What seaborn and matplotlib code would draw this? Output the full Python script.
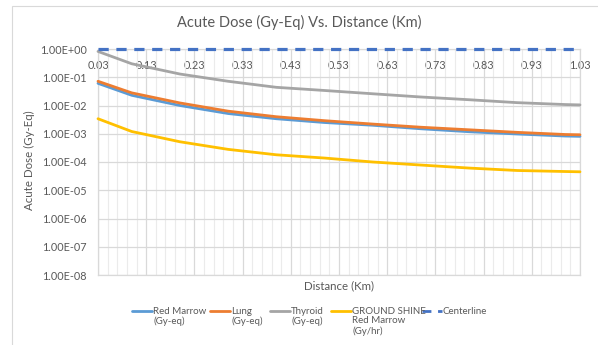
import numpy as np
import pandas as pd
import matplotlib
matplotlib.use("Agg")
import matplotlib.pyplot as plt
from matplotlib.patches import Rectangle
from matplotlib.lines import Line2D
import matplotlib.ticker as mticker
import seaborn as sns

# values
distance = [0.03, 0.1, 0.2, 0.3, 0.4, 0.5, 0.6, 0.7, 0.8, 0.9, 1.0, 1.03]
red_marrow = [0.061, 0.023, 0.010, 0.0052, 0.0034, 0.0025, 0.0020, 0.0015, 0.00118, 0.00098, 0.00083, 0.00081]
lung = [0.072, 0.028, 0.0123, 0.0063, 0.0040, 0.0029, 0.0022, 0.0017, 0.00138, 0.00112, 0.00094, 0.00092]
thyroid = [0.82, 0.30, 0.13, 0.072, 0.044, 0.034, 0.026, 0.020, 0.016, 0.0126, 0.0108, 0.0105]
ground_shine = [0.0034, 0.0012, 0.00052, 0.00028, 0.00018, 0.000138, 0.0001, 0.000078, 0.000061, 0.00005, 0.000046, 0.000045]
centerline = [1.0] * len(distance)

series_names = ["Red Marrow\n(Gy-eq)", "Lung\n(Gy-eq)", "Thyroid\n(Gy-eq)",
                "GROUND SHINE\nRed Marrow\n(Gy/hr)", "Centerline"]
series_values = [red_marrow, lung, thyroid, ground_shine, centerline]
colors = ["#5B9BD5", "#ED7D31", "#A5A5A5", "#FFC000", "#4472C4"]

df = pd.concat([pd.DataFrame({"Distance": distance, "Dose": v, "Series": n})
                for n, v in zip(series_names, series_values)])

sns.set_style("white")
plt.rcParams["font.family"] = ["Lato", "DejaVu Sans"]
txt = "#595959"
W, H = 598, 345
dash = (0, (3.2, 2.4))

fig = plt.figure(figsize=(5.98, 3.45), dpi=100)
ax = fig.add_axes([98 / W, 1 - 275 / H, (580 - 98) / W, (275 - 49) / H])

sns.lineplot(data=df, x="Distance", y="Dose", hue="Series",
             palette=colors, hue_order=series_names, linewidth=2.0, ax=ax,
             sort=False, legend=False)
for ln in ax.lines:
    ln.set_clip_on(False)
    ln.set_zorder(3)
ax.lines[-1].set_linestyle(dash)
ax.lines[-1].set_linewidth(2.3)

ax.set_yscale("log")
ax.set_ylim(1e-8, 1)
ax.set_xlim(0.03, 1.03)
ax.yaxis.set_major_locator(mticker.LogLocator(base=10, numticks=20))
ax.yaxis.set_minor_locator(mticker.NullLocator())
ax.yaxis.set_major_formatter(mticker.FuncFormatter(lambda v, p: "{:.2E}".format(v)))
ax.set_xticks(np.arange(0.03, 1.04, 0.1))
ax.set_xticks(np.arange(0.03, 1.04, 0.02), minor=True)
ax.xaxis.set_major_formatter(mticker.FuncFormatter(lambda v, p: "{:.2f}".format(v)))
ax.xaxis.tick_top()
ax.tick_params(axis="x", which="both", length=0, pad=-16, labelsize=7.8, colors=txt)
ax.tick_params(axis="y", length=0, pad=8, labelsize=7.8, colors=txt)

ax.grid(which="major", color="#D9D9D9", linewidth=0.9)
ax.grid(which="minor", axis="x", color="#EBEBEB", linewidth=0.8)
for s in ax.spines.values():
    s.set_color("#D9D9D9")
    s.set_linewidth(0.9)
ax.set_axisbelow(True)

ax.set_xlabel("")
ax.set_ylabel("")
fig.text(339 / W, 1 - 286 / H, "Distance (Km)", ha="center", va="center", fontsize=8.3, color=txt)
fig.text(29 / W, 1 - 160 / H, "Acute Dose (Gy-Eq)", ha="center", va="center",
         rotation=90, fontsize=8.3, color=txt)
fig.text(299 / W, 1 - 22 / H, "Acute Dose (Gy-Eq) Vs. Distance (Km)", ha="center",
         va="center", fontsize=10.5, color=txt)

# legend below the plot: handle left edges in pixels
handle_x = [132, 210, 270, 331, 422]
for name, col, hx in zip(series_names, colors, handle_x):
    style = dash if name == "Centerline" else "-"
    fig.add_artist(Line2D([hx / W, (hx + 20) / W], [1 - 311 / H] * 2, color=col,
                          linewidth=2.0, linestyle=style, transform=fig.transFigure))
    fig.text((hx + 21) / W, 1 - 306.5 / H, name, ha="left", va="top", fontsize=7.0,
             color=txt, linespacing=1.12)

fig.patches.append(Rectangle((12 / W, -0.1), 1.2, 1 - 6 / H + 0.1,
                             transform=fig.transFigure, fill=False,
                             edgecolor="#D9D9D9", linewidth=0.8))

fig.savefig("out.png", dpi=100)
